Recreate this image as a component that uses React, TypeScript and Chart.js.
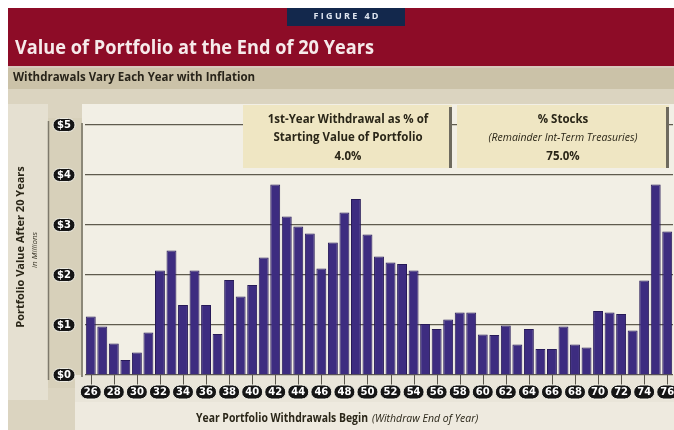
import React, { useEffect, useRef } from 'react';
import { Chart, registerables } from 'chart.js';

Chart.register(...registerables);

const years = [
  '26', '27', '28', '29', '30', '31', '32', '33', '34', '35',
  '36', '37', '38', '39', '40', '41', '42', '43', '44', '45',
  '46', '47', '48', '49', '50', '51', '52', '53', '54', '55',
  '56', '57', '58', '59', '60', '61', '62', '63', '64', '65',
  '66', '67', '68', '69', '70', '71', '72', '73', '74', '75', '76',
];

const portfolioValues = [
  1.17, 0.97, 0.63, 0.30, 0.45, 0.85, 2.09, 2.49, 1.40, 2.09,
  1.40, 0.82, 1.90, 1.57, 1.80, 2.35, 3.81, 3.17, 2.97, 2.83,
  2.13, 2.65, 3.25, 3.52, 2.81, 2.37, 2.25, 2.22, 2.09, 1.02,
  0.92, 1.11, 1.25, 1.25, 0.81, 0.80, 0.99, 0.61, 0.92, 0.52,
  0.52, 0.97, 0.61, 0.55, 1.28, 1.25, 1.22, 0.89, 1.89, 3.81, 2.87,
];

const yTickLabels = ['$0', '$1', '$2', '$3', '$4', '$5'];

const figureLabel = 'F I G U R E   4 D';
const titleText = 'Value of Portfolio at the End of 20 Years';
const subtitleText = 'Withdrawals Vary Each Year with Inflation';
const box1Lines = ['1st-Year Withdrawal as % of', 'Starting Value of Portfolio', '4.0%'];
const box2Lines = ['% Stocks', '(Remainder Int-Term Treasuries)', '75.0%'];
const yTitle = 'Portfolio Value After 20 Years';
const yUnit = 'in Millions';
const xTitleBold = 'Year Portfolio Withdrawals Begin';
const xTitleItalic = '(Withdraw End of Year)';

const FONT = '"Open Sans", "DejaVu Sans", sans-serif';

function pill(ctx: CanvasRenderingContext2D, cx: number, cy: number, w: number, h: number, text: string) {
  ctx.save();
  ctx.beginPath();
  (ctx as any).roundRect(cx - w / 2, cy - h / 2, w, h, h / 2);
  ctx.fillStyle = '#151515';
  ctx.fill();
  ctx.strokeStyle = 'rgba(250,248,240,0.9)';
  ctx.lineWidth = 1;
  ctx.stroke();
  ctx.fillStyle = '#ffffff';
  ctx.font = 'bold 10px "DejaVu Sans", sans-serif';
  ctx.textAlign = 'center';
  ctx.textBaseline = 'middle';
  ctx.fillText(text, cx, cy + 0.5, w - 4);
  ctx.restore();
}

const decorPlugin = {
  id: 'decor',
  beforeDraw(chart: any) {
    const ctx: CanvasRenderingContext2D = chart.ctx;
    const W = chart.width;
    const H = chart.height;
    const ca = chart.chartArea;
    ctx.save();
    // header red band
    ctx.fillStyle = '#8d0c27';
    ctx.fillRect(0, 0, W, 58);
    ctx.fillStyle = '#d8c8bc';
    ctx.fillRect(0, 58, W, 2);
    // subtitle band
    ctx.fillStyle = '#cbc2a8';
    ctx.fillRect(0, 60, W, 21);
    // body tan
    ctx.fillStyle = '#dbd4c0';
    ctx.fillRect(0, 81, W, H - 81);
    // left panel
    ctx.fillStyle = '#e5e0d1';
    ctx.fillRect(0, 96, 40, 296);
    // y strip
    ctx.fillStyle = '#d7d0ba';
    ctx.fillRect(40, 110, 34, 270);
    ctx.strokeStyle = '#7e796b';
    ctx.lineWidth = 1.5;
    ctx.beginPath();
    ctx.moveTo(40.5, ca.top - 4);
    ctx.lineTo(40.5, ca.bottom + 5);
    ctx.stroke();
    // plot background
    ctx.fillStyle = '#f2efe5';
    ctx.fillRect(74, 96, W - 74, ca.bottom - 96);
    // x label row
    ctx.fillStyle = '#e9e5d9';
    ctx.fillRect(67, ca.bottom, W - 67, 27);
    // bottom band
    ctx.fillStyle = '#eeeadf';
    ctx.fillRect(67, ca.bottom + 27, W - 67, H - ca.bottom - 27);
    // y axis line
    ctx.strokeStyle = '#8c8878';
    ctx.lineWidth = 2;
    ctx.beginPath();
    ctx.moveTo(74, ca.top - 2);
    ctx.lineTo(74, ca.bottom + 2);
    ctx.stroke();
    ctx.restore();
  },
  afterDraw(chart: any) {
    const ctx: CanvasRenderingContext2D = chart.ctx;
    const ca = chart.chartArea;
    const xs = chart.scales.x;
    const ys = chart.scales.y;
    ctx.save();

    // FIGURE 4D tag
    ctx.fillStyle = '#13284c';
    ctx.fillRect(279, 0, 118, 18);
    ctx.fillStyle = '#dfe6f0';
    ctx.font = `bold 9px ${FONT}`;
    ctx.textAlign = 'center';
    ctx.textBaseline = 'middle';
    ctx.fillText(figureLabel, 338, 8, 98);

    // title
    ctx.fillStyle = '#f6eaea';
    ctx.font = `bold 19px ${FONT}`;
    ctx.textAlign = 'left';
    ctx.fillText(titleText, 7, 41, 359);

    // subtitle
    ctx.fillStyle = '#28241a';
    ctx.font = `bold 11.5px ${FONT}`;
    ctx.fillText(subtitleText, 5, 70, 279);

    // info boxes
    const boxes = [
      { x: 235, w: 209, cx: 340, lines: box1Lines, italic: false },
      { x: 449, w: 212, cx: 555, lines: box2Lines, italic: true },
    ];
    for (const b of boxes) {
      ctx.fillStyle = '#efe6c3';
      ctx.fillRect(b.x, 97, b.w, 63);
      ctx.fillStyle = '#6e6a5e';
      ctx.fillRect(b.x + b.w - 3, 99, 3, 61);
      ctx.fillStyle = '#2a2618';
      ctx.textAlign = 'center';
      ctx.font = `bold 11.5px ${FONT}`;
      ctx.fillText(b.lines[0], b.cx, 112, 184);
      if (b.italic) {
        ctx.font = `italic 10.5px ${FONT}`;
        ctx.fillText(b.lines[1], b.cx, 130, 188);
      } else {
        ctx.font = `bold 11.5px ${FONT}`;
        ctx.fillText(b.lines[1], b.cx, 130, 174);
      }
      ctx.font = `bold 11.5px ${FONT}`;
      ctx.fillText(b.lines[2], b.cx, 149);
    }

    // y tick pills
    ys.ticks.forEach((t: any) => {
      const y = ys.getPixelForValue(t.value);
      pill(ctx, 56, y, 22, 13, yTickLabels[Math.round(t.value)]);
    });

    // x tick marks and pills
    ctx.strokeStyle = '#5a564c';
    ctx.lineWidth = 1;
    years.forEach((lab, i) => {
      if (i % 2 !== 0) return;
      const x = Math.round(xs.getPixelForValue(i)) + 0.5;
      ctx.beginPath();
      ctx.moveTo(x, ca.bottom);
      ctx.lineTo(x, ca.bottom + 10);
      ctx.stroke();
    });
    years.forEach((lab, i) => {
      if (i % 2 !== 0) return;
      const x = xs.getPixelForValue(i);
      pill(ctx, x, ca.bottom + 17, 21, 14, lab);
    });

    // y title
    ctx.save();
    ctx.translate(13, 239);
    ctx.rotate(-Math.PI / 2);
    ctx.fillStyle = '#2a2618';
    ctx.font = `bold 11px ${FONT}`;
    ctx.textAlign = 'center';
    ctx.textBaseline = 'middle';
    ctx.fillText(yTitle, 0, 0, 183);
    ctx.restore();
    ctx.save();
    ctx.translate(27, 242);
    ctx.rotate(-Math.PI / 2);
    ctx.fillStyle = '#3a3628';
    ctx.font = `italic 8px ${FONT}`;
    ctx.textAlign = 'center';
    ctx.textBaseline = 'middle';
    ctx.fillText(yUnit, 0, 0, 45);
    ctx.restore();

    // x title
    ctx.fillStyle = '#2a2618';
    ctx.textAlign = 'left';
    ctx.textBaseline = 'middle';
    ctx.font = `bold 11.5px ${FONT}`;
    ctx.fillText(xTitleBold, 188, 411, 172);
    ctx.font = `italic 10.5px ${FONT}`;
    ctx.fillText(xTitleItalic, 364, 411, 183);

    ctx.restore();
  },
};

export default function App() {
  const ref = useRef<HTMLCanvasElement>(null);
  useEffect(() => {
    const chart = new Chart(ref.current as HTMLCanvasElement, {
      type: 'bar',
      data: {
        labels: years,
        datasets: [
          {
            data: portfolioValues,
            backgroundColor: '#3d2c80',
            borderColor: '#271a58',
            borderWidth: 1,
            barPercentage: 0.86,
            categoryPercentage: 1,
          },
        ],
      },
      options: {
        responsive: false,
        animation: false,
        devicePixelRatio: 1,
        layout: { padding: { left: 0, right: 1, top: 117, bottom: 0 } },
        plugins: { legend: { display: false }, tooltip: { enabled: false }, title: { display: false } },
        scales: {
          x: {
            grid: { display: false },
            border: { display: false },
            ticks: { display: false },
            afterFit: (s: any) => { s.height = 55; },
          },
          y: {
            min: 0,
            max: 5,
            ticks: { display: false, stepSize: 1 },
            grid: { color: '#5f5b4e', lineWidth: 1.2, drawTicks: false },
            border: { display: false },
            afterFit: (s: any) => { s.width = 77; },
          },
        },
      },
      plugins: [decorPlugin],
    });
    return () => chart.destroy();
  }, []);
  return (
    <div style={{ position: 'fixed', left: 8, top: 8, width: 666, height: 422 }}>
      <canvas ref={ref} width={666} height={422} style={{ display: 'block', width: 666, height: 422 }} />
    </div>
  );
}
